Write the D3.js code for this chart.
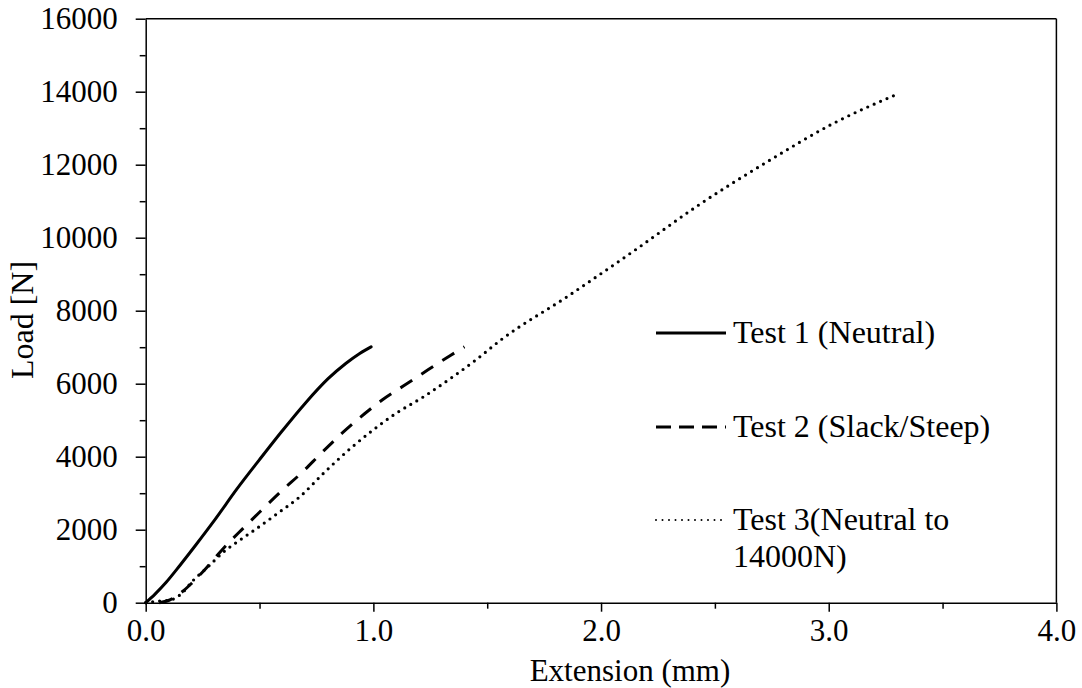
<!DOCTYPE html>
<html>
<head>
<meta charset="utf-8">
<script src="https://cdn.jsdelivr.net/npm/d3@7"></script>
<style>
  html, body { margin: 0; padding: 0; background: #fff; }
  svg { display: block; }
</style>
</head>
<body>
<svg id="chart" width="1082" height="688"></svg>
<script>
// ---- data ----
const test1X = [0, 0.04, 0.09, 0.15, 0.22, 0.30, 0.40, 0.50, 0.60, 0.70, 0.80, 0.88, 0.94, 0.99];
const test1Y = [0, 230, 560, 1020, 1580, 2240, 3110, 3920, 4710, 5460, 6130, 6560, 6830, 7010];

const test2X = [0.06, 0.10, 0.15, 0.20, 0.25, 0.34, 0.42, 0.51, 0.60, 0.69, 0.77, 0.86, 0.96, 1.04, 1.15, 1.24, 1.34, 1.40];
const test2Y = [0, 60, 250, 520, 840, 1480, 1990, 2540, 3080, 3590, 4090, 4630, 5170, 5560, 6010, 6380, 6780, 7010];

const test3X = [0.00, 0.05, 0.10, 0.15, 0.21, 0.27, 0.34, 0.41, 0.48, 0.58, 0.68, 0.78, 0.90, 0.99, 1.10, 1.22, 1.34, 1.45, 1.56, 1.85, 2.14, 2.43, 2.73, 3.02, 3.30];
const test3Y = [0, 40, 60, 210, 620, 960, 1380, 1700, 2000, 2450, 2920, 3540, 4230, 4690, 5190, 5640, 6150, 6650, 7200, 8380, 9620, 10900, 12080, 13130, 13930];

const xTicks = [0, 1, 2, 3, 4];
const xMinorTicks = [0.5, 1.5, 2.5, 3.5];
const yTicks = [0, 2000, 4000, 6000, 8000, 10000, 12000, 14000, 16000];
const yMinorTicks = [1000, 3000, 5000, 7000, 9000, 11000, 13000, 15000];

const seriesNames = ["Test 1 (Neutral)", "Test 2 (Slack/Steep)", ["Test 3(Neutral to", "14000N)"]];

// ---- layout ----
const FONT = "Liberation Serif";
const svg = d3.select("#chart").attr("font-family", FONT);
const pLeft = 145.7, pRight = 1056.4, pTop = 18.7, pBottom = 602.7;
const x = d3.scaleLinear().domain([0, 4]).range([pLeft, pRight]);
const y = d3.scaleLinear().domain([0, 16000]).range([pBottom, pTop]);
const FS = 32;
const FS_AX = 31;

// frame (top & right)
svg.append("line").attr("x1", pLeft).attr("x2", pRight).attr("y1", pTop).attr("y2", pTop)
  .attr("stroke", "#000").attr("stroke-width", 1.5);
svg.append("line").attr("x1", pRight).attr("x2", pRight).attr("y1", pTop).attr("y2", pBottom)
  .attr("stroke", "#000").attr("stroke-width", 1.5);

// x axis
svg.append("g").attr("transform", `translate(0,${pBottom})`)
  .call(d3.axisBottom(x).tickValues(xTicks).tickFormat(d3.format(".1f")).tickSizeInner(9).tickSizeOuter(0).tickPadding(7));
const xMinor = svg.append("g").attr("transform", `translate(0,${pBottom})`)
  .call(d3.axisBottom(x).tickValues(xMinorTicks).tickFormat("").tickSizeInner(6).tickSizeOuter(0));
xMinor.select(".domain").remove();

// y axis
svg.append("g").attr("transform", `translate(${pLeft},0)`)
  .call(d3.axisLeft(y).tickValues(yTicks).tickFormat(d3.format("d")).tickSizeInner(10).tickSizeOuter(0).tickPadding(18));
const yMinor = svg.append("g").attr("transform", `translate(${pLeft},0)`)
  .call(d3.axisLeft(y).tickValues(yMinorTicks).tickFormat("").tickSizeInner(6).tickSizeOuter(0));
yMinor.select(".domain").remove();

svg.selectAll("g").attr("font-family", FONT).attr("font-size", FS_AX);
svg.selectAll(".domain").attr("stroke", "#000").attr("stroke-width", 1.5);
svg.selectAll(".tick line").attr("stroke", "#000").attr("stroke-width", 1.5);
svg.selectAll(".tick text").attr("font-family", FONT).attr("font-size", FS_AX).attr("fill", "#000");

// axis titles
svg.append("text").attr("x", 630).attr("y", 681).attr("text-anchor", "middle")
  .attr("font-family", FONT).attr("font-size", FS_AX).text("Extension (mm)");
svg.append("text").attr("transform", `translate(33,320) rotate(-90)`).attr("text-anchor", "middle")
  .attr("font-family", FONT).attr("font-size", FS).text("Load [N]");

// series
const line = d3.line().x(d => x(d[0])).y(d => y(d[1])).curve(d3.curveMonotoneX);
const s1 = test1X.map((v, i) => [v, test1Y[i]]);
const s2 = test2X.map((v, i) => [v, test2Y[i]]);
const s3 = test3X.map((v, i) => [v, test3Y[i]]);

const styles = [
  { data: s1, dash: null, width: 3, cap: "round" },
  { data: s2, dash: "14,11", width: 3, cap: "butt" },
  { data: s3, dash: "0,7", width: 3.2, cap: "round" }
];
const plot = svg.append("g");
styles.forEach(s => {
  const p = plot.append("path").datum(s.data).attr("d", line)
    .attr("fill", "none").attr("stroke", "#000").attr("stroke-width", s.width)
    .attr("stroke-linecap", s.cap).attr("stroke-linejoin", "round");
  if (s.dash) p.attr("stroke-dasharray", s.dash);
});

// legend
const legY = [333, 427, 520];
const legDash = [null, "15,8", "0,6.5"];
const legWidth = [3, 3, 2];
const legCap = ["butt", "butt", "round"];
const leg = svg.append("g");
seriesNames.forEach((name, i) => {
  const l = leg.append("line").attr("x1", 656).attr("x2", 726).attr("y1", legY[i]).attr("y2", legY[i])
    .attr("stroke", "#000").attr("stroke-width", legWidth[i]).attr("stroke-linecap", legCap[i]);
  if (legDash[i]) l.attr("stroke-dasharray", legDash[i]);
  const t = leg.append("text").attr("x", 733).attr("y", legY[i] + 10)
    .attr("font-family", FONT).attr("font-size", FS);
  if (Array.isArray(name)) {
    name.forEach((n, j) => t.append("tspan").attr("x", 733).attr("dy", j === 0 ? 0 : 37).text(n));
  } else {
    t.text(name);
  }
});
</script>
</body>
</html>
